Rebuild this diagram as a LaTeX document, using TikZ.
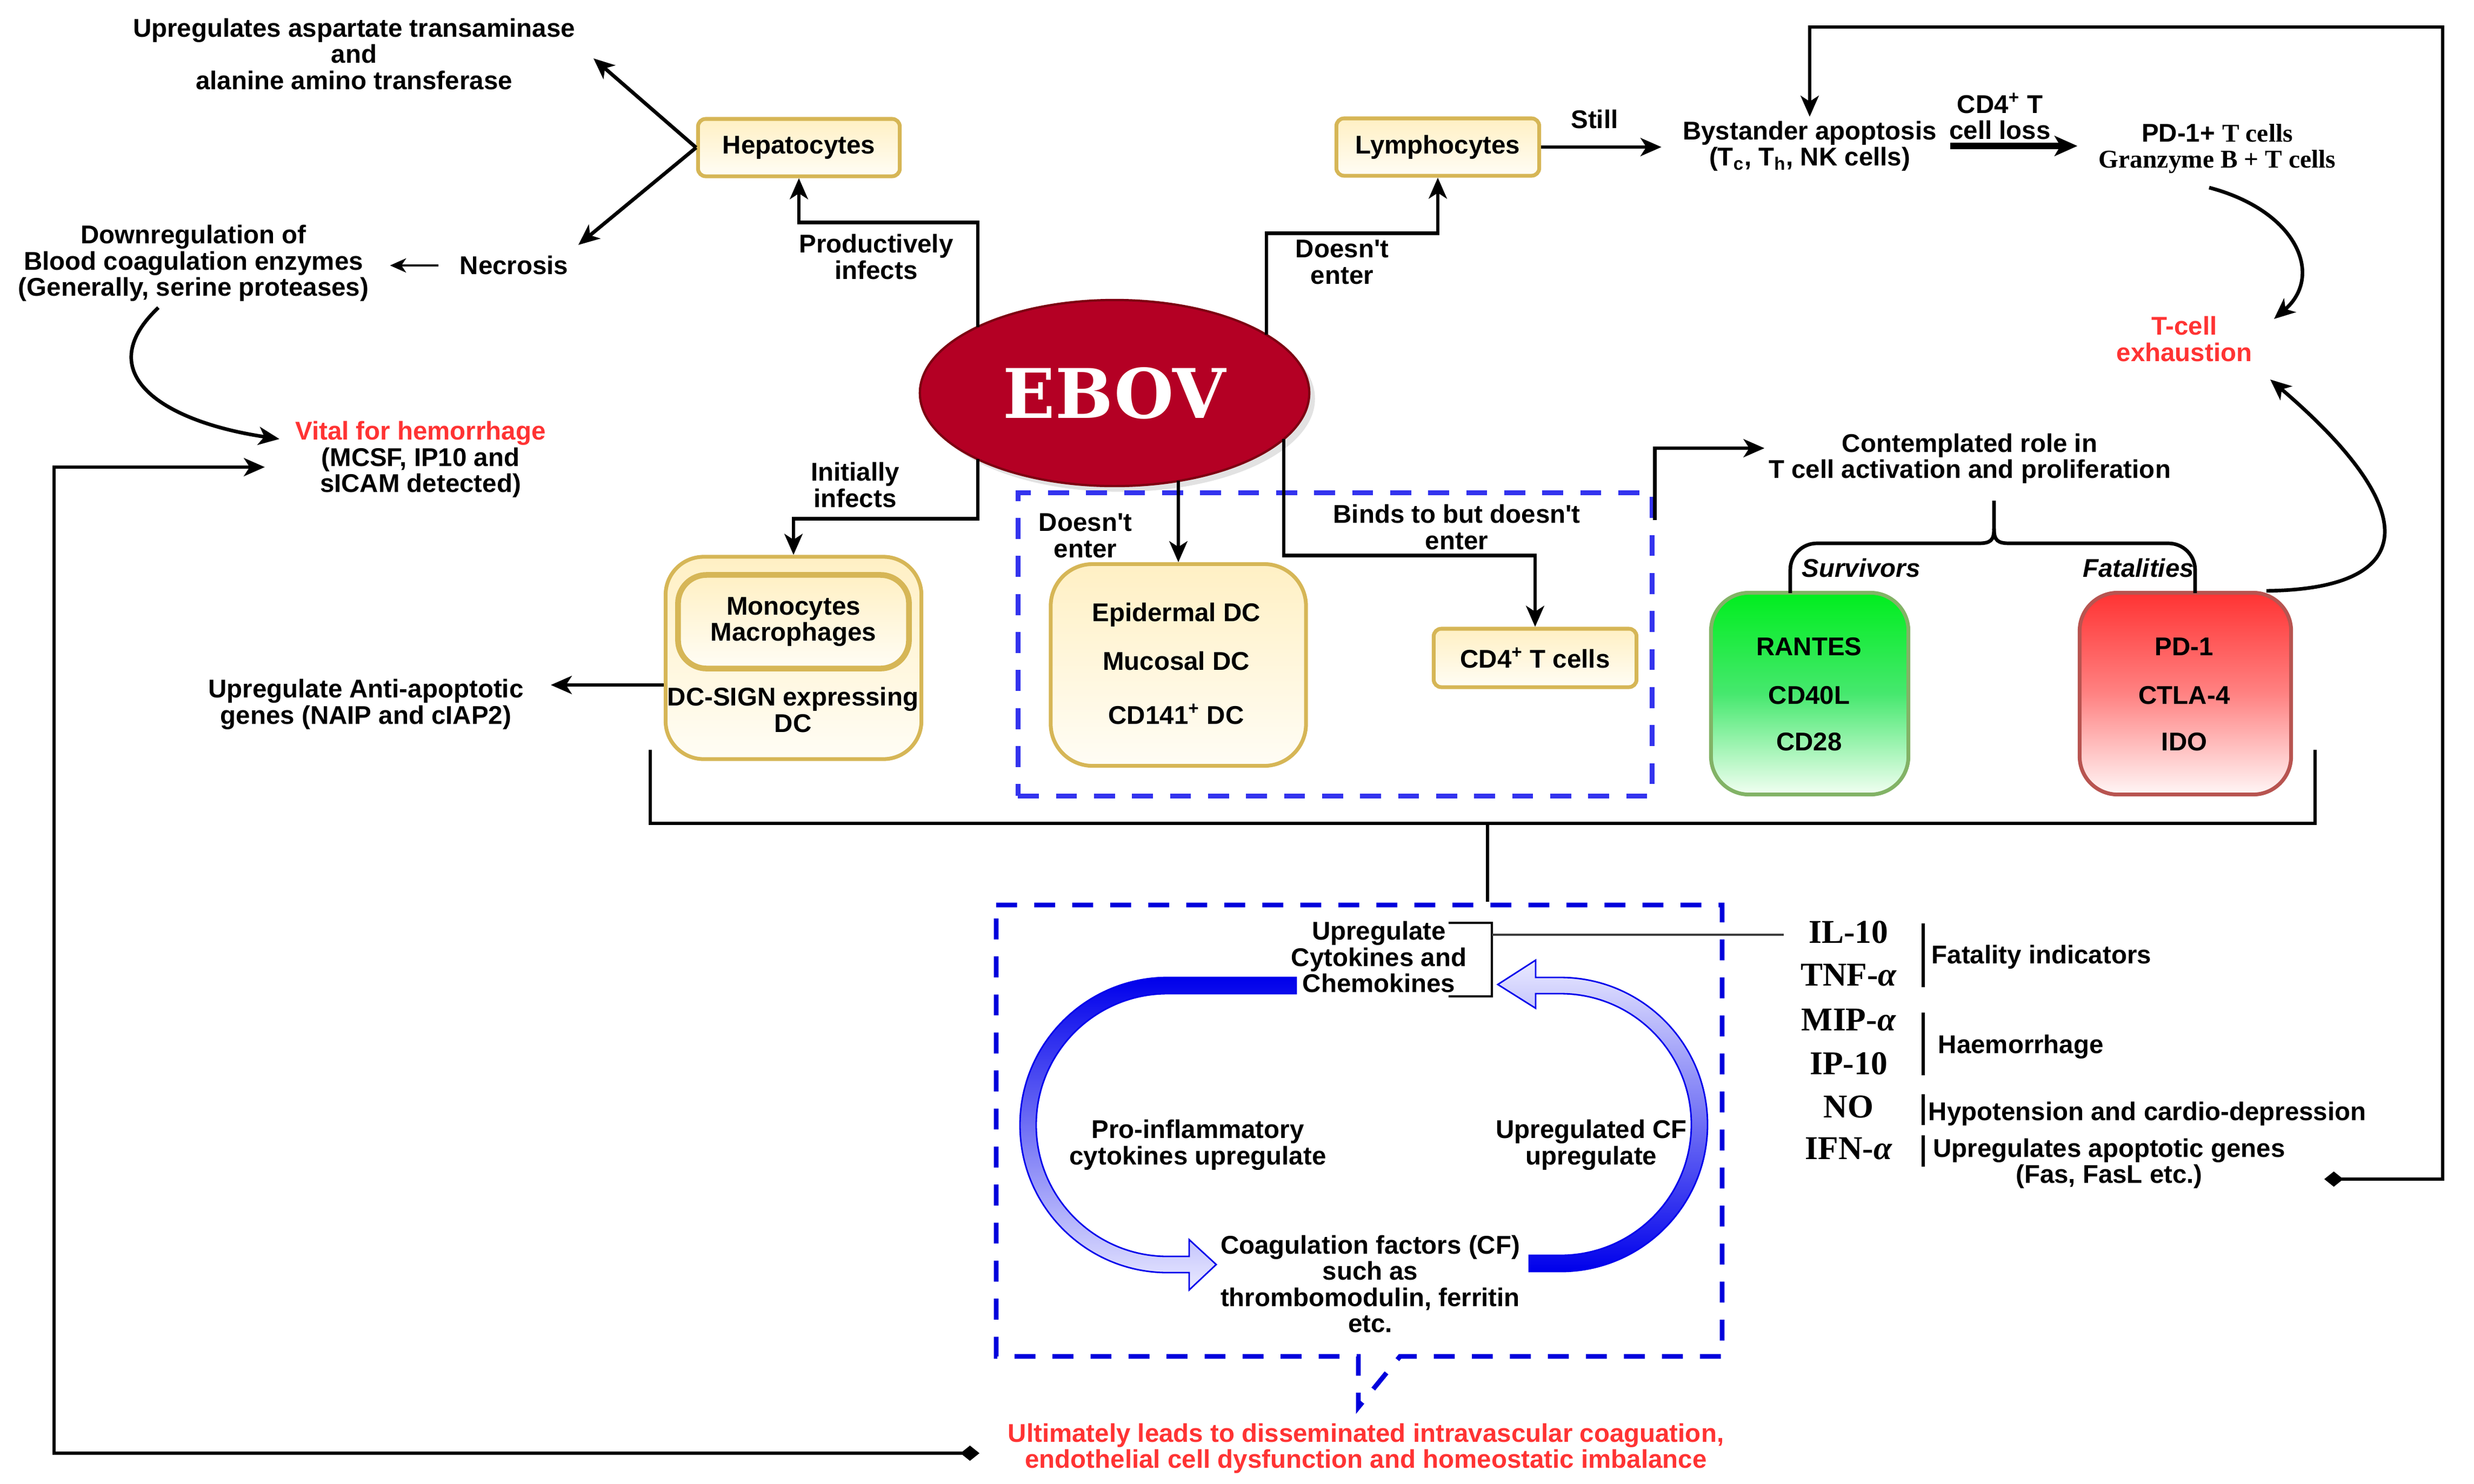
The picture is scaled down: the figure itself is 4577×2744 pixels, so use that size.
\documentclass[tikz,border=0pt]{standalone}
\usepackage{fontspec}
\setmainfont{Liberation Sans}
\newfontfamily\tnr{Liberation Serif}
\newfontfamily\ebovfont{DejaVu Serif}
\usetikzlibrary{arrows.meta,calc,shadows,shapes.geometric}
\definecolor{ybord}{RGB}{214,182,86}
\definecolor{ytop}{RGB}{255,240,196}
\definecolor{ybot}{RGB}{255,253,245}
\definecolor{gbord}{RGB}{130,179,102}
\definecolor{gtop}{RGB}{0,238,30}
\definecolor{gmid}{RGB}{70,232,110}
\definecolor{gbot}{RGB}{242,255,242}
\definecolor{rbord}{RGB}{184,84,80}
\definecolor{rtop}{RGB}{255,51,51}
\definecolor{rmid}{RGB}{255,130,130}
\definecolor{rbot}{RGB}{255,246,246}
\definecolor{ebovred}{RGB}{180,0,36}
\definecolor{ebovdark}{RGB}{125,0,18}
\definecolor{txtred}{RGB}{255,51,51}
\definecolor{dashblueA}{RGB}{51,51,238}
\definecolor{dashblueB}{RGB}{0,0,220}
\definecolor{cyc}{RGB}{0,0,235}
\definecolor{cyclight}{RGB}{234,234,255}
\definecolor{darkline}{RGB}{60,60,60}
\newcommand{\apos}{\textquotesingle}
\begin{document}
\begin{tikzpicture}[x=0.01cm,y=-0.01cm]
\tikzset{
  every node/.style={font=\bfseries\fontsize{13.5}{13.8}\selectfont, align=center, inner sep=2pt},
  ybox/.style={draw=ybord, line width=2pt, top color=ytop, bottom color=ybot},
  gbox/.style={draw=gbord, line width=2pt, rounded corners=20pt, top color=gtop, bottom color=gbot, middle color=gmid},
  rbox/.style={draw=rbord, line width=2pt, rounded corners=20pt, top color=rtop, bottom color=rbot, middle color=rmid},
  cyto/.style={font=\tnr\bfseries\fontsize{17.5}{18}\selectfont},
  arr/.style={line width=1.9pt, -{Stealth[length=11pt,width=9.5pt,inset=3pt]}},
  darr/.style={line width=1.9pt, {Diamond[length=10pt,width=8pt]}-{Stealth[length=11pt,width=9.5pt,inset=3pt]}},
  thinarr/.style={line width=1.1pt, -{Stealth[length=8.5pt,width=7.5pt,inset=2.5pt]}},
  thickarr/.style={line width=3.2pt, -{Stealth[length=12pt,width=10.5pt,inset=3pt]}},
  conn/.style={line width=1.9pt},
  barline/.style={line width=1.6pt},
  dashA/.style={draw=dashblueA, line width=2.5pt, dash pattern=on 11pt off 9pt},
  dashB/.style={draw=dashblueB, line width=2.5pt, dash pattern=on 11pt off 9pt},
  cycarrow/.style={draw=cyc, line width=0.8pt}
}
\fill[white] (0,0) rectangle (4577,2744);
\useasboundingbox (0,0) rectangle (4577,2744);

% ---------- left top ----------
\node (upasp) at (655,100) {Upregulates aspartate transaminase\\and\\alanine amino transferase};
\node[ybox, rounded corners=4pt, minimum width=3.73cm, minimum height=1.06cm] (hep) at (1478,273) {Hepatocytes};
\coordinate (upaspTip) at (1098,108);
\coordinate (necTip) at (1070,453);
\draw[arr] (hep.west) -- (upaspTip);
\draw[arr] (hep.west) -- (necTip);
\node (necro) at (951,491) {Necrosis};
\node (down) at (358,487) {Downregulation of\\Blood coagulation enzymes\\(Generally, serine proteases)};
\draw[thinarr, shorten <=9pt, shorten >=9pt] (necro.west) -- (down.east |- necro.west);
\node (vital) at (778,850) {\textcolor{txtred}{Vital for hemorrhage}\\(MCSF, IP10 and\\sICAM detected)};
\coordinate (downC) at (293,569);
\coordinate (vitalTip1) at (517,812);
\draw[arr] (downC) .. controls (165,690) and (300,780) .. (vitalTip1);
\coordinate (ultD) at (1812,2688);
\coordinate (vitalTip2) at (490,864);
\draw[darr] (ultD) -- (100,2688) |- (vitalTip2);

% ---------- EBOV ----------
\node[ellipse, minimum width=7.2cm, minimum height=3.44cm, fill=ebovred, draw=ebovdark, line width=1.2pt,
      drop shadow={shadow xshift=3pt, shadow yshift=-3pt, fill=black!22}] (ebov) at (2062,727)
      {\ebovfont\fontsize{36}{36}\selectfont\color{white}EBOV};
\draw[arr] ($(ebov.center)+(-253,-122)$) |- ($(hep.south)+(0,82)$) -- (hep.south);
\node (prod) at (1621,475) {Productively\\infects};

\node[ybox, rounded corners=4pt, minimum width=3.75cm, minimum height=1.06cm] (lymph) at (2660,272) {Lymphocytes};
\draw[arr] ($(ebov.center)+(281,-108)$) |- ($(lymph.south)+(0,103)$) -- (lymph.south);
\node (dne1) at (2483,485) {Doesn\apos t\\enter};
\node (still) at (2950,221) {Still};
\node (bys) at (3348,270) {Bystander apoptosis\\(T\textsubscript{c}, T\textsubscript{h}, NK cells)};
\draw[arr, shorten >=9pt] (lymph.east) -- (bys.west |- lymph.east);
\node (cdloss) at (3700,215) {CD4\textsuperscript{+} T\\cell loss};
\node (pd1) at (4102,275) {PD-1+ {\tnr T cells}\\{\tnr Granzyme B + T cells}};
\draw[thickarr, shorten <=5pt, shorten >=9pt] (bys.east) -- (pd1.west |- bys.east);
\node[text=txtred] (exh) at (4041,627) {T-cell\\exhaustion};
\coordinate (pdC) at (4087,347);
\coordinate (exhTip1) at (4207,590);
\draw[arr] (pdC) .. controls (4250,390) and (4300,510) .. (exhTip1);
\coordinate (apopD) at (4300,2181);
\draw[darr] (apopD) -| (4519,50) -| (bys.north);

% ---------- T cell role ----------
\node (contemp) at (3644,848) {Contemplated role in\\T cell activation and proliferation};
\node[gbox, minimum width=3.65cm, minimum height=3.73cm] (surv) at (3348,1283) {};
\node[rbox, minimum width=3.91cm, minimum height=3.73cm] (fat) at (4043,1283) {};
\node (rantes) at (3347,1196) {RANTES};
\node (cd40l) at (3347,1286) {CD40L};
\node (cd28) at (3347,1372) {CD28};
\node (pdone) at (4041,1196) {PD-1};
\node (ctla) at (4041,1286) {CTLA-4};
\node (ido) at (4041,1372) {IDO};
\node (survlab) at (3443,1051) {\itshape Survivors};
\node (fatlab) at (3956,1051) {\itshape Fatalities};
\draw[conn, rounded corners=14pt] (3312,1097) -- (3312,1005) -- (3660,1005);
\draw[conn] (3660,1005) .. controls (3682,1005) and (3689,1000) .. (3689,978) -- (3689,926);
\draw[conn, rounded corners=14pt] (4061,1097) -- (4061,1005) -- (3718,1005);
\draw[conn] (3718,1005) .. controls (3696,1005) and (3689,1000) .. (3689,978);
\coordinate (exhTip2) at (4200,702);
\draw[arr] ($(fat.north)+(150,0)$) .. controls (4470,1090) and (4490,950) .. (exhTip2);

% ---------- DC group ----------
\node[dashA, minimum width=11.73cm, minimum height=5.6cm] (dcbox) at (2470,1192) {};
\draw[arr] ($(dcbox.north east)+(0,55)$) |- ($(contemp.west)+(0,-19)$);
\node (dne2) at (2008,991) {Doesn\apos t\\enter};
\node[ybox, rounded corners=22pt, minimum width=4.72cm, minimum height=3.73cm] (epid) at (2180,1230) {};
\node (epi1) at (2176,1137) {Epidermal DC};
\node (epi2) at (2176,1223) {Mucosal DC};
\node (epi3) at (2176,1321) {CD141\textsuperscript{+} DC};
\draw[arr] ($(ebov.center)+(118,162)$) -- (epid.north);
\node (binds) at (2695,975) {Binds to but doesn\apos t\\enter};
\node[ybox, rounded corners=4pt, minimum width=3.75cm, minimum height=1.08cm] (cd4) at (2840,1217) {CD4\textsuperscript{+} T cells};
\draw[arr] ($(ebov.center)+(313,85)$) |- ($(cd4.north)+(0,-132)$) -- (cd4.north);

\node[ybox, rounded corners=20pt, minimum width=4.73cm, minimum height=3.74cm] (mono) at (1468,1217) {};
\node[ybox, line width=3pt, rounded corners=15pt, minimum width=4.27cm, minimum height=1.73cm] (monoin) at (1468,1150) {Monocytes\\Macrophages};
\node (dcsign) at (1467,1313) {DC-SIGN expressing\\DC};
\draw[arr] ($(ebov.center)+(-253,122)$) |- ($(mono.north)+(0,-67)$) -- (mono.north);
\node (init) at (1582,897) {Initially\\infects};
\node (antiap) at (677,1303) {Upregulate Anti-apoptotic\\genes (NAIP and cIAP2)};
\coordinate (antiTip) at (1019,1267);
\draw[arr] ($(mono.west)+(0,50)$) -- (antiTip);

% ---------- bracket ----------
\draw[conn] (1203,1387) |- (4283,1523) -- (4283,1387);
\coordinate (stemTop) at (2752,1523);
\coordinate (stemBot) at (2752,1668);
\draw[conn] (stemTop) -- (stemBot);

% ---------- cycle ----------
\draw[dashB] (1843,1674) -- (3186,1674) -- (3186,2509) -- (2590,2509) -- (2513,2603) -- (2513,2509) -- (1843,2509) -- cycle;
\path[cycarrow, top color=cyc, bottom color=cyclight]
  (2398,1808) -- (2160,1808) arc[start angle=270, end angle=90, radius=273] -- (2200,2354) -- (2200,2386)
  -- (2250,2339) -- (2200,2293) -- (2200,2324) -- (2160,2324) arc[start angle=90, end angle=270, radius=243]
  -- (2398,1838) -- cycle;
\path[cycarrow, top color=cyclight, bottom color=cyc]
  (2829,2322) -- (2887,2322) arc[start angle=90, end angle=-90, radius=242] -- (2841,1838) -- (2841,1865)
  -- (2771,1821) -- (2841,1776) -- (2841,1808) -- (2887,1808) arc[start angle=-90, end angle=90, radius=272]
  -- (2829,2352) -- cycle;
\node (upcyt) at (2551,1770) {Upregulate\\Cytokines and\\Chemokines};
\draw[line width=1.3pt] (2680,1707) -- (2760,1707) -- (2760,1843) -- (2680,1843);
\node (proinf) at (2216,2118) {Pro-inflammatory\\cytokines upregulate};
\node (upcf) at (2944,2118) {Upregulated CF\\upregulate};
\node (coag) at (2535,2375) {Coagulation factors (CF)\\such as\\thrombomodulin, ferritin\\etc.};
\node[text=txtred] (ult) at (2527,2679) {Ultimately leads to disseminated intravascular coaguation,\\endothelial cell dysfunction and homeostatic imbalance};

% ---------- cytokine list ----------
\node[cyto] (il10) at (3420,1724) {IL-10};
\node[cyto] (tnf) at (3420,1804) {TNF-{\itshape α}};
\node[cyto] (mip) at (3420,1887) {MIP-{\itshape α}};
\node[cyto] (ip10) at (3420,1967) {IP-10};
\node[cyto] (no) at (3420,2047) {NO};
\node[cyto] (ifn) at (3420,2125) {IFN-{\itshape α}};
\draw[line width=1.3pt, darkline, shorten >=11pt] (2760,1729) -- ($(il10.west)+(0,5)$);
\draw[barline] (3558,1708) -- (3558,1826);
\draw[barline] (3558,1873) -- (3558,1989);
\draw[barline] (3558,2024) -- (3558,2081);
\draw[barline] (3558,2100) -- (3558,2158);
\node[anchor=west] (fatind) at (3566,1770) {Fatality indicators};
\node[anchor=west] (haem) at (3578,1936) {Haemorrhage};
\node[anchor=west] (hypo) at (3560,2060) {Hypotension and cardio-depression};
\node (apop) at (3902,2152) {Upregulates apoptotic genes\\(Fas, FasL etc.)};
\end{tikzpicture}
\end{document}
